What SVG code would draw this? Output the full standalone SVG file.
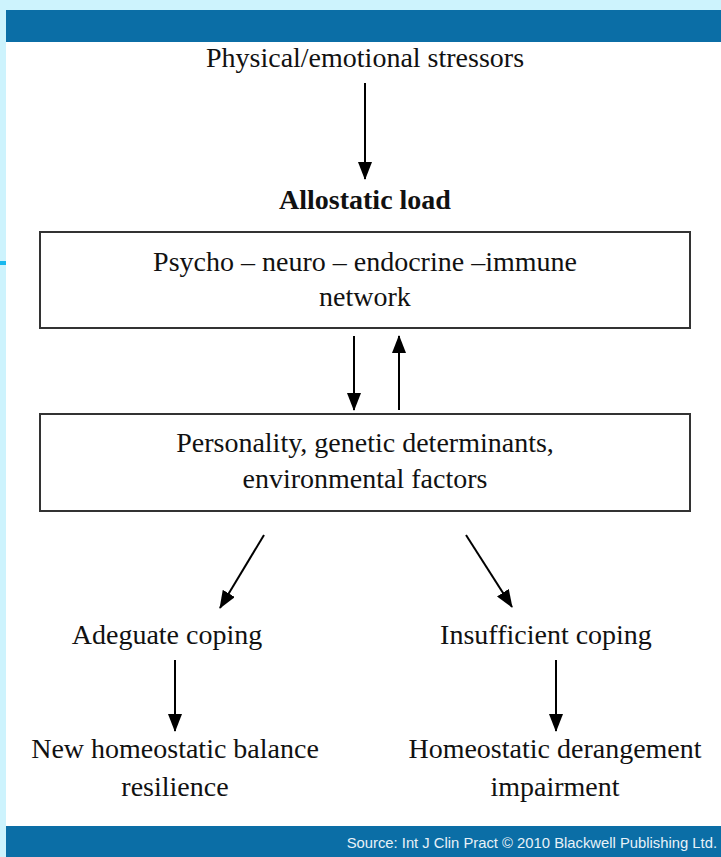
<svg xmlns="http://www.w3.org/2000/svg" width="721" height="857" viewBox="0 0 721 857">
<defs>
<marker id="ah" viewBox="0 0 18 14" refX="17" refY="7" markerWidth="18" markerHeight="14" markerUnits="userSpaceOnUse" orient="auto">
<path d="M0,0 L18,7 L0,14 z" fill="#000"/>
</marker>
<style>
.t{font-family:"Liberation Serif",serif;font-size:28px;fill:#111;text-anchor:middle}
.b{font-weight:bold}
.box{fill:none;stroke:#333;stroke-width:2}
.c line{stroke:#000;stroke-width:2;marker-end:url(#ah)}
</style>
</defs>
<rect x="0" y="0" width="721" height="857" fill="#cdf3fd"/>
<rect x="6" y="10" width="715" height="847" fill="#fff"/>
<rect x="6" y="10" width="715" height="32" fill="#0b6ea6"/>
<rect x="6" y="826" width="715" height="31" fill="#0b6ea6"/>
<rect x="0" y="261" width="6" height="4" fill="#19b8ee"/>
<text x="717" y="848" font-family="Liberation Sans,sans-serif" font-size="14.8" fill="#e8f2f8" text-anchor="end">Source: Int J Clin Pract © 2010 Blackwell Publishing Ltd.</text>

<g id="stressors"><text class="t" x="365" y="67">Physical/emotional stressors</text></g>
<g id="allostatic"><text class="t b" x="365" y="209" font-size="27">Allostatic load</text></g>
<g id="pnei"><rect class="box" x="40" y="232" width="650" height="96"/>
<text class="t" x="365" y="271">Psycho – neuro – endocrine –immune</text>
<text class="t" x="365" y="306">network</text></g>
<g id="personality"><rect class="box" x="40" y="414" width="650" height="97"/>
<text class="t" x="365" y="452">Personality, genetic determinants,</text>
<text class="t" x="365" y="488">environmental factors</text></g>
<g id="adequate"><text class="t" x="167" y="644">Adeguate coping</text></g>
<g id="insufficient"><text class="t" x="546" y="644">Insufficient coping</text></g>
<g id="newbalance"><text class="t" x="175" y="758">New homeostatic balance</text>
<text class="t" x="175" y="796">resilience</text></g>
<g id="derangement"><text class="t" x="555" y="758">Homeostatic derangement</text>
<text class="t" x="555" y="796">impairment</text></g>

<g class="c" id="connectors">
<line x1="365" y1="83" x2="365" y2="179"/>
<line x1="354" y1="336" x2="354" y2="410"/>
<line x1="399" y1="410" x2="399" y2="336"/>
<line x1="264" y1="535" x2="220" y2="608"/>
<line x1="466" y1="535" x2="512" y2="607"/>
<line x1="175" y1="660" x2="175" y2="731"/>
<line x1="556" y1="660" x2="556" y2="731"/>
</g>
</svg>
